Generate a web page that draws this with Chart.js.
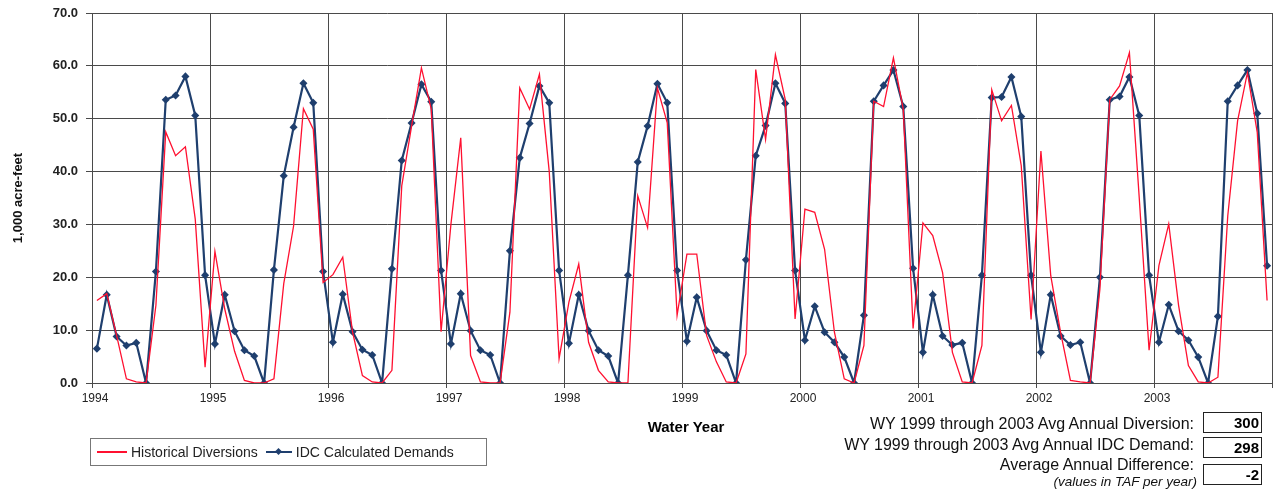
<!DOCTYPE html>
<html>
<head>
<meta charset="utf-8">
<script src="https://cdn.jsdelivr.net/npm/chart.js@4.4.1/dist/chart.umd.min.js"></script>
<style>
    body { margin: 0; background: #fff; font-family: "Liberation Sans", Arial, sans-serif; }
    #wrap { position: relative; width: 1279px; height: 493px; }
    #graph { position: absolute; left: 0; top: 0; }
    .legend { position: absolute; left: 90px; top: 438px; width: 395px; height: 26px; border: 1px solid #777;
              font-size: 14px; color: #222; display: flex; align-items: center; }
    .legend .swatch { display: inline-block; width: 30px; height: 0; margin: 0 4px 0 6px; }
    .xtitle { position: absolute; left: 600px; width: 172px; top: 418px; text-align: center; font-weight: bold; font-size: 15px; }
    .stat { position: absolute; right: 85px; font-size: 16px; color: #111; white-space: nowrap; }
    .box { position: absolute; left: 1203px; width: 55px; height: 19px; border: 1px solid #222; text-align: right;
           font-weight: bold; font-size: 15px; line-height: 20px; padding-right: 2px; box-sizing: content-box; }
</style>
</head>
<body>
<div id="wrap">
    <canvas id="graph" width="1279" height="493"></canvas>
    <div class="xtitle">Water Year</div>
    <div class="legend">
        <span class="swatch" style="border-top: 2px solid #ff1030;"></span>Historical Diversions
        <span class="swatch" style="border-top: 2px solid #1f3f6e; margin-left: 8px; width: 26px; position: relative;">
            <span style="position:absolute; left:10px; top:-4px; width:5px; height:5px; background:#1f3f6e; transform: rotate(45deg);"></span>
        </span>IDC Calculated Demands
    </div>
    <div class="stat" style="top: 415px;">WY 1999 through 2003 Avg Annual Diversion:</div>
    <div class="stat" style="top: 436px;">WY 1999 through 2003 Avg Annual IDC Demand:</div>
    <div class="stat" style="top: 456px;">Average Annual Difference:</div>
    <div class="stat" style="top: 474px; font-size: 13.5px; font-style: italic; right: 82px;">(values in TAF per year)</div>
    <div class="box" style="top: 412px;">300</div>
    <div class="box" style="top: 437px;">298</div>
    <div class="box" style="top: 464px;">-2</div>
</div>
<script>
// anos (um rótulo por ano hidrológico)
var years = ['1994', '1995', '1996', '1997', '1998', '1999', '2000', '2001', '2002', '2003'];

// Historical Diversions, mensal (1.000 acre-feet)
var historical = [
    15.6, 16.9, 9.0, 0.8, 0.2, 0, 14.7, 47.5, 43.0, 44.7, 31.0, 3.0,
    24.9, 14.0, 6.0, 0.5, 0, 0, 0.8, 18.8, 29.7, 51.9, 48.0, 19.0,
    20.5, 23.8, 9.6, 1.4, 0.2, 0, 2.4, 37.3, 48.6, 59.6, 51.8, 9.7,
    30.0, 46.4, 5.2, 0.2, 0, 0, 13.4, 55.8, 51.8, 58.4, 40.0, 4.6,
    15.3, 22.5, 7.7, 2.4, 0.2, 0, 0, 35.4, 29.4, 55.8, 49.2, 12.8,
    24.4, 24.4, 9.0, 4.0, 0.2, 0, 5.5, 59.3, 46.1, 62.1, 53.6, 12.1,
    32.9, 32.3, 25.3, 9.6, 0.8, 0, 7.1, 53.3, 52.3, 61.5, 51.8, 10.3,
    30.3, 27.9, 20.9, 5.8, 0.2, 0, 7.1, 55.5, 49.6, 52.5, 41.1, 12.0,
    43.9, 20.3, 9.6, 0.5, 0.2, 0, 17.8, 53.6, 56.2, 62.5, 35.0, 6.2,
    22.2, 30.1, 14.7, 3.3, 0.2, 0, 1.1, 31.6, 49.6, 58.7, 47.4, 15.6
];

// IDC Calculated Demands, mensal
var idc = [
    6.5, 16.7, 8.8, 7.1, 7.6, 0, 21.1, 53.6, 54.4, 58.0, 50.6, 20.4,
    7.4, 16.7, 9.8, 6.2, 5.1, 0, 21.4, 39.2, 48.4, 56.7, 53.0, 21.1,
    7.7, 16.8, 9.7, 6.3, 5.3, 0, 21.6, 42.1, 49.2, 56.5, 53.2, 21.3,
    7.4, 16.9, 9.9, 6.2, 5.3, 0, 25.0, 42.6, 49.1, 56.2, 53.0, 21.3,
    7.5, 16.7, 9.9, 6.2, 5.1, 0, 20.4, 41.8, 48.6, 56.6, 53.0, 21.3,
    7.9, 16.2, 9.9, 6.2, 5.3, 0, 23.3, 43.0, 48.7, 56.7, 52.9, 21.3,
    8.1, 14.5, 9.6, 7.7, 4.9, 0, 12.8, 53.3, 56.3, 59.2, 52.3, 21.7,
    5.8, 16.7, 8.9, 7.2, 7.6, 0, 20.4, 54.0, 54.1, 57.9, 50.4, 20.4,
    5.8, 16.7, 8.9, 7.2, 7.7, 0, 20.0, 53.6, 54.2, 57.9, 50.6, 20.4,
    7.7, 14.8, 9.8, 8.1, 4.9, 0, 12.6, 53.3, 56.3, 59.2, 51.0, 22.2
];

// cada mês fica no meio do seu intervalo
function toPoints(arr) {
    return arr.map(function (v, i) { return { x: i + 0.5, y: v }; });
}

var gridColor = '#4a4a4a';
var ctx = document.getElementById('graph').getContext('2d');
var chart = new Chart(ctx, {
    type: 'line',
    data: {
        datasets: [
            {
                label: 'Historical Diversions',
                data: toPoints(historical),
                borderColor: '#ff1030',
                borderWidth: 1.3,
                pointRadius: 0,
                tension: 0
            },
            {
                label: 'IDC Calculated Demands',
                data: toPoints(idc),
                borderColor: '#1f3f6e',
                backgroundColor: '#1f3f6e',
                borderWidth: 2.2,
                pointStyle: 'rectRot',
                pointRadius: 2.5,
                tension: 0
            }
        ]
    },
    options: {
        responsive: false,
        animation: false,
        layout: { padding: { left: 0, top: 13, right: 7, bottom: 80 } },
        plugins: {
            legend: { display: false },
            tooltip: { enabled: false }
        },
        scales: {
            x: {
                type: 'linear',
                min: 0,
                max: years.length * 12,
                grid: { color: gridColor, lineWidth: 1, tickLength: 5 },
                border: { color: gridColor, width: 1 },
                ticks: {
                    stepSize: 12,
                    autoSkip: false,
                    maxRotation: 0,
                    padding: 3,
                    labelOffset: 3,
                    color: '#222',
                    font: { family: 'Liberation Sans', size: 12 },
                    callback: function (v) { return years[v / 12] || ''; }
                },
                afterFit: function (scale) { scale.height = 30; }
            },
            y: {
                min: 0,
                max: 70,
                grid: { color: gridColor, lineWidth: 1, tickLength: 6 },
                border: { color: gridColor, width: 1 },
                ticks: {
                    stepSize: 10,
                    padding: 8,
                    color: '#222',
                    font: { family: 'Liberation Sans', size: 13, weight: 'bold' },
                    callback: function (v) { return v.toFixed(1); }
                },
                title: {
                    display: true,
                    text: '1,000 acre-feet',
                    color: '#111',
                    padding: { top: 11, bottom: 0 },
                    font: { family: 'Liberation Sans', size: 13, weight: 'bold' }
                },
                afterFit: function (scale) {
                    scale.width = 92;
                    scale.paddingTop = 0;
                    scale.paddingBottom = 0;
                }
            }
        }
    }
});
</script>
</body>
</html>
